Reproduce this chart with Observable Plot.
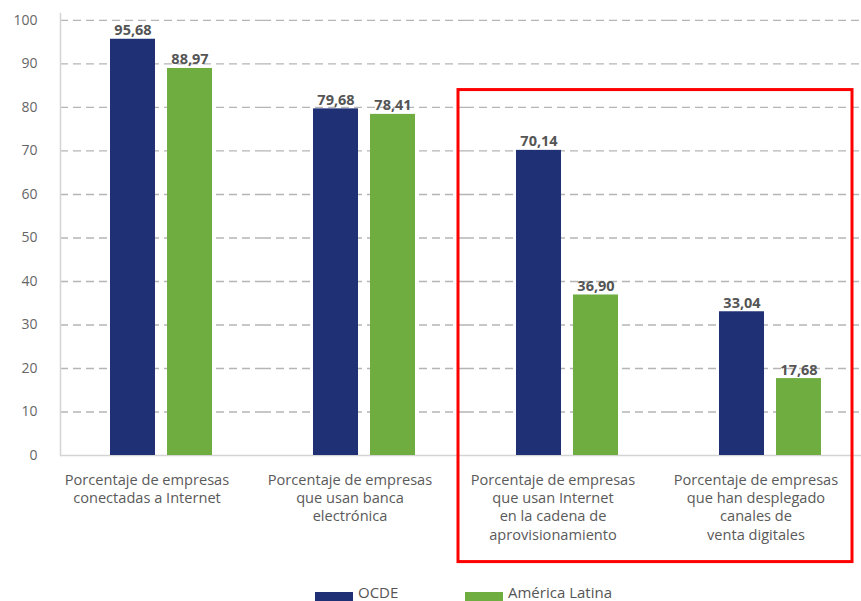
<!DOCTYPE html>
<html><head><meta charset="utf-8">
<script src="https://cdn.jsdelivr.net/npm/d3@7"></script>
<script src="https://cdn.jsdelivr.net/npm/@observablehq/plot@0.6"></script>
<style>
body{margin:0;background:#fff;font-family:"Open Sans",sans-serif;overflow:hidden;}
#chart svg{display:block;overflow:hidden;}
#legend{display:flex;padding-left:315px;margin-top:0px;font-size:15px;color:#555;line-height:15px;}
.item{display:flex;align-items:flex-start;}
.sw{width:38px;height:14px;margin-right:5px;margin-top:7px;}
</style></head>
<body><div id="chart"></div><div id="legend"></div>
<script>
const groups = ["conectadas", "banca", "aprovisionamiento", "venta"];
const groupLabels = [
  "Porcentaje de empresas\nconectadas a Internet",
  "Porcentaje de empresas\nque usan banca\nelectrónica",
  "Porcentaje de empresas\nque usan Internet\nen la cadena de\naprovisionamiento",
  "Porcentaje de empresas\nque han desplegado\ncanales de\nventa digitales"
];
const series = ["OCDE", "América Latina"];
const ocde = [95.68, 79.68, 70.14, 33.04];
const latam = [88.97, 78.41, 36.90, 17.68];
const colors = ["#1f3174", "#70ad40"];
const yTicks = [0, 10, 20, 30, 40, 50, 60, 70, 80, 90, 100];
const highlighted = ["aprovisionamiento", "venta"];
const boxTop = 84, boxBottom = -24.5;

const data = groups.flatMap((g, i) => [
  {group: g, series: series[0], value: ocde[i]},
  {group: g, series: series[1], value: latam[i]}
]);
const fmt = v => v.toFixed(2).replace(".", ",");

const plot = Plot.plot({
  width: 861, height: 585,
  marginLeft: 59, marginRight: -12, marginTop: 13, marginBottom: 130,
  style: {fontFamily: "Open Sans", background: "white", overflow: "hidden"},
  fx: {domain: groups, padding: 0, axis: null},
  x: {domain: series, paddingInner: 0.21, paddingOuter: 0.874, axis: null},
  y: {domain: [0, 101.6], axis: null},
  color: {domain: series, range: colors},
  marks: [
    Plot.ruleY(yTicks.filter(t => t > 0), {stroke: "#b5b5b5", strokeWidth: 1.3, strokeDasharray: "8,5"}),
    Plot.ruleY([0], {stroke: "#d4d4d4", strokeWidth: 1.5}),
    Plot.frame({anchor: "left", facet: "super", stroke: "#d4d4d4", strokeWidth: 1.5}),
    Plot.axisY(yTicks, {tickSize: 0, tickPadding: 23, fontSize: 14, color: "#666", label: null}),
    Plot.barY(data, {fx: "group", x: "series", y: "value", fill: "series"}),
    Plot.text(data, {fx: "group", x: "series", y: "value", text: d => fmt(d.value), lineAnchor: "bottom", dy: -4, fontWeight: "bold", fontSize: 14.5, fill: "#555"}),
    Plot.text(groups, {fx: d => d, text: (d, i) => groupLabels[i], frameAnchor: "bottom", lineAnchor: "top", dy: 16, dx: -15, lineHeight: 1.26, fontSize: 14.6, fill: "#5a5a5a"})
  ]
});
document.getElementById("chart").append(plot);

const fxs = plot.scale("fx"), ys = plot.scale("y");
const x0 = fxs.apply(highlighted[0]) - 8;
const x1 = fxs.apply(highlighted[1]) + fxs.bandwidth - 20;
const y0 = ys.apply(boxTop), y1 = ys.apply(boxBottom);
d3.select(plot).append("rect")
  .attr("x", x0).attr("y", y0).attr("width", x1 - x0).attr("height", y1 - y0)
  .attr("fill", "none").attr("stroke", "#ff0000").attr("stroke-width", 3);

const legend = document.getElementById("legend");
series.forEach((s, i) => {
  const it = document.createElement("div");
  it.className = "item";
  if (i === 0) it.style.width = "150px";
  it.innerHTML = `<div class="sw" style="background:${colors[i]}"></div><span>${s}</span>`;
  legend.append(it);
});
</script>
</body></html>
